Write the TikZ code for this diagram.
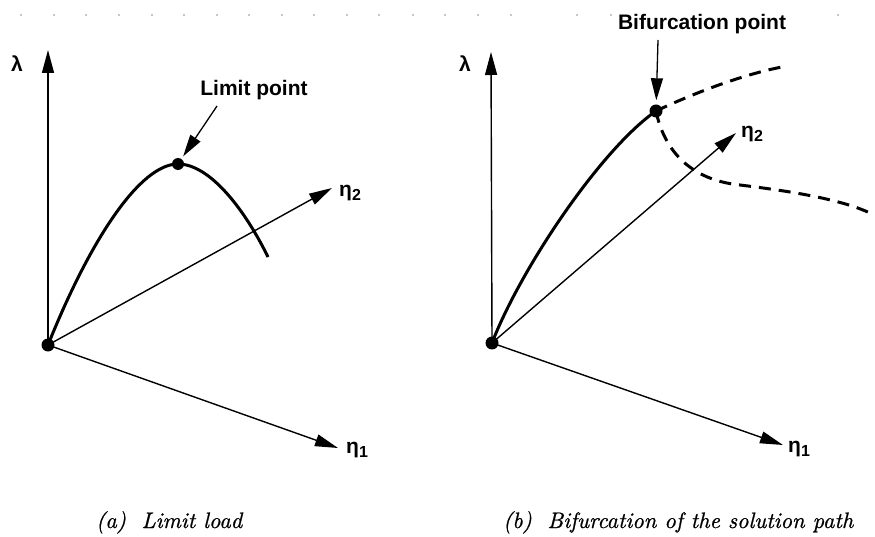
\documentclass[tikz,border=0pt]{standalone}
\usepackage{fontspec}
\newfontfamily\lab{Liberation Sans}
\newfontface\capfont{lmroman10-italic.otf}[FakeBold=0.8]
\usetikzlibrary{arrows.meta}
\newcommand\subidx[1]{\raisebox{-4pt}{\fontsize{16}{16}\selectfont #1}}
\begin{document}
\begin{tikzpicture}[x=1pt,y=-1pt,
  axis/.style={line width=1.4pt,-{Triangle[length=23pt,width=12pt]}},
  callout/.style={line width=1.3pt,-{Triangle[length=22pt,width=12pt]}},
  solidpath/.style={line width=3pt},
  branch/.style={line width=3pt,dash pattern=on 12pt off 8pt},
  dot/.style={circle,fill=black,inner sep=0pt,minimum size=13pt},
  lbl/.style={font=\lab\bfseries\fontsize{21}{24}\selectfont,inner sep=0pt},
  captxt/.style={font=\capfont\fontsize{22.4}{26}\selectfont,inner sep=0pt,anchor=base west},
  scan/.style={fill=black!45}]
\useasboundingbox (0,0) rectangle (875,537);
% scanning dots
\foreach \x in {21,54,86,119,152,184,217,249,282,314,347,379,413,445,478,511,577,611,838}
  \fill[scan] (\x,15) circle (0.9);
% ---------- (a) ----------
\node[dot] (oa) at (48,345) {};
\coordinate (la) at (48,50);
\coordinate (e1a) at (338,448);
\coordinate (e2a) at (332,188);
\draw[axis] (oa.center) -- (la);
\draw[axis] (oa.center) -- (e1a);
\draw[axis] (oa.center) -- (e2a);
\draw[solidpath] (oa.center) .. controls (90,240) and (140,164) .. (178,164)
  .. controls (210,164) and (245,210) .. (268,257);
\node[dot,minimum size=12pt] (lp) at (178,164) {};
\node[lbl,anchor=base] (lpt) at (254,96) {Limit point};
\coordinate (lps) at (217,106);
\draw[callout,shorten >=3pt] (lps) -- (lp);
\node[lbl,anchor=base west] (lama) at (11,72) {λ};
\node[lbl,anchor=base west] (eta2a) at (339,197) {η\subidx{2}};
\node[lbl,anchor=base west] (eta1a) at (346,453) {η\subidx{1}};
\node[captxt] (capa) at (96,528) {(a)\hspace{0.7em}Limit load};
% ---------- (b) ----------
\node[dot] (ob) at (492,343) {};
\coordinate (lb) at (491,52);
\coordinate (e1b) at (783,445);
\coordinate (e2b) at (736,133);
\draw[axis] (ob.center) -- (lb);
\draw[axis] (ob.center) -- (e1b);
\draw[axis] (ob.center) -- (e2b);
\draw[solidpath] (ob.center) .. controls (520,270) and (600,150) .. (656,111);
\draw[branch] (656,111) .. controls (690,95) and (740,75) .. (782,67);
\draw[branch] (656,111) .. controls (664,150) and (690,180) .. (740,185)
  .. controls (780,190) and (840,198) .. (872,214);
\node[dot] (bp) at (656,111) {};
\node[lbl,anchor=base] (bpt) at (702,30) {Bifurcation point};
\coordinate (bps) at (658,40);
\draw[callout,shorten >=4pt] (bps) -- (bp);
\node[lbl,anchor=base west] (lamb) at (459,72) {λ};
\node[lbl,anchor=base west] (eta2b) at (741,138) {η\subidx{2}};
\node[lbl,anchor=base west] (eta1b) at (788,452) {η\subidx{1}};
\node[captxt] (capb) at (503,528) {(b)\hspace{0.7em}Bifurcation of the solution path};
\end{tikzpicture}
\end{document}
